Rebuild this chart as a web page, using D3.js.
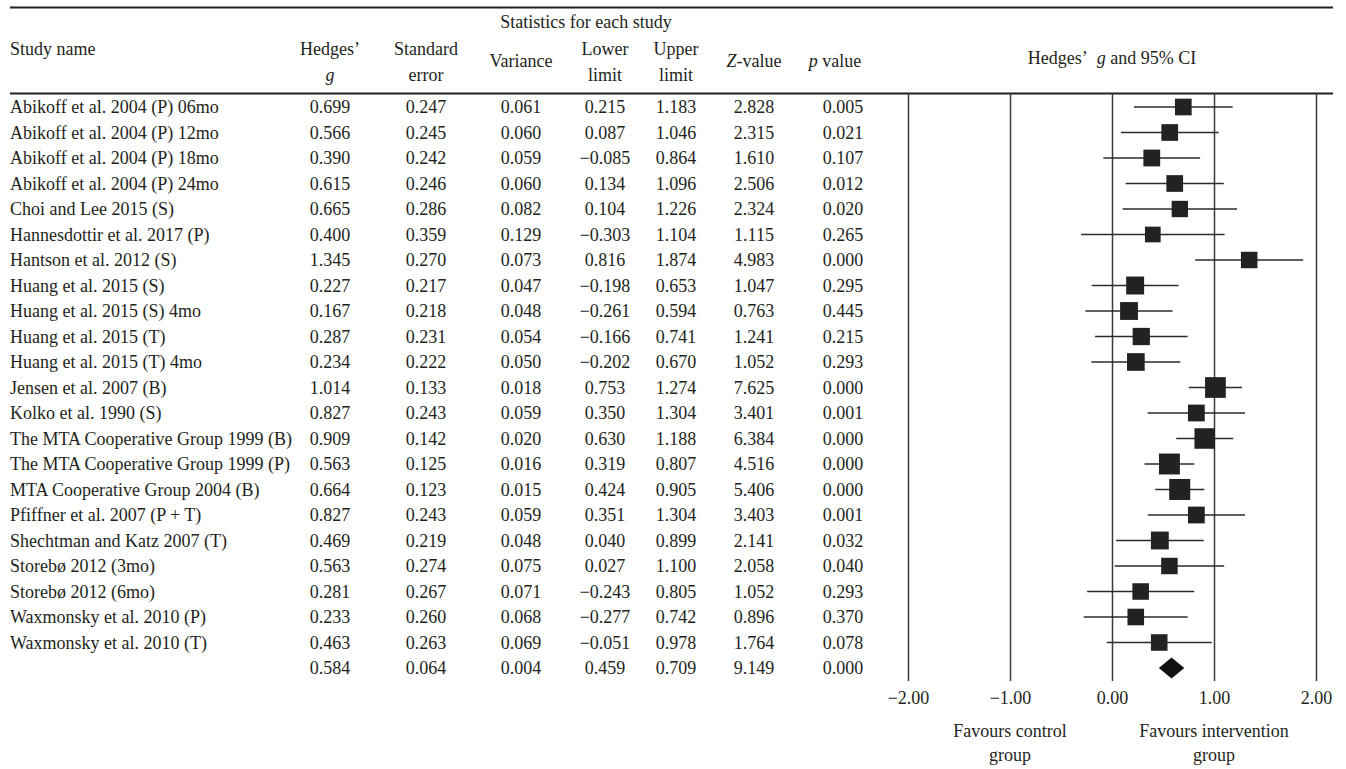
<!DOCTYPE html>
<html>
<head>
<meta charset="utf-8">
<script src="https://cdn.jsdelivr.net/npm/d3@7"></script>
<style>
  body { margin: 0; background: #fff; }
  svg text { font-family: "Liberation Serif", "DejaVu Serif", serif; font-size: 18px; fill: #231f20; }
</style>
</head>
<body>
<div id="forest"></div>
<script>
// data
var studies = [
  "Abikoff et al. 2004 (P) 06mo", "Abikoff et al. 2004 (P) 12mo", "Abikoff et al. 2004 (P) 18mo",
  "Abikoff et al. 2004 (P) 24mo", "Choi and Lee 2015 (S)", "Hannesdottir et al. 2017 (P)",
  "Hantson et al. 2012 (S)", "Huang et al. 2015 (S)", "Huang et al. 2015 (S) 4mo",
  "Huang et al. 2015 (T)", "Huang et al. 2015 (T) 4mo", "Jensen et al. 2007 (B)",
  "Kolko et al. 1990 (S)", "The MTA Cooperative Group 1999 (B)", "The MTA Cooperative Group 1999 (P)",
  "MTA Cooperative Group 2004 (B)", "Pfiffner et al. 2007 (P + T)", "Shechtman and Katz 2007 (T)",
  "Storebø 2012 (3mo)", "Storebø 2012 (6mo)", "Waxmonsky et al. 2010 (P)", "Waxmonsky et al. 2010 (T)"
];
var hedgesG = [0.699, 0.566, 0.390, 0.615, 0.665, 0.400, 1.345, 0.227, 0.167, 0.287, 0.234, 1.014,
  0.827, 0.909, 0.563, 0.664, 0.827, 0.469, 0.563, 0.281, 0.233, 0.463];
var stdErr = [0.247, 0.245, 0.242, 0.246, 0.286, 0.359, 0.270, 0.217, 0.218, 0.231, 0.222, 0.133,
  0.243, 0.142, 0.125, 0.123, 0.243, 0.219, 0.274, 0.267, 0.260, 0.263];
var variance = [0.061, 0.060, 0.059, 0.060, 0.082, 0.129, 0.073, 0.047, 0.048, 0.054, 0.050, 0.018,
  0.059, 0.020, 0.016, 0.015, 0.059, 0.048, 0.075, 0.071, 0.068, 0.069];
var lowerLimit = [0.215, 0.087, -0.085, 0.134, 0.104, -0.303, 0.816, -0.198, -0.261, -0.166, -0.202, 0.753,
  0.350, 0.630, 0.319, 0.424, 0.351, 0.040, 0.027, -0.243, -0.277, -0.051];
var upperLimit = [1.183, 1.046, 0.864, 1.096, 1.226, 1.104, 1.874, 0.653, 0.594, 0.741, 0.670, 1.274,
  1.304, 1.188, 0.807, 0.905, 1.304, 0.899, 1.100, 0.805, 0.742, 0.978];
var zValue = [2.828, 2.315, 1.610, 2.506, 2.324, 1.115, 4.983, 1.047, 0.763, 1.241, 1.052, 7.625,
  3.401, 6.384, 4.516, 5.406, 3.403, 2.141, 2.058, 1.052, 0.896, 1.764];
var pValue = [0.005, 0.021, 0.107, 0.012, 0.020, 0.265, 0.000, 0.295, 0.445, 0.215, 0.293, 0.000,
  0.001, 0.000, 0.000, 0.000, 0.001, 0.032, 0.040, 0.293, 0.370, 0.078];

// pooled estimate
var summary = { g: 0.584, se: 0.064, v: 0.004, lo: 0.459, hi: 0.709, z: 9.149, p: 0.000 };

var tickValues = [-2, -1, 0, 1, 2];
var favourLabels = [
  { at: -1, lines: ["Favours control", "group"] },
  { at: 1, lines: ["Favours intervention", "group"] }
];

var width = 1346, height = 769;
var fmt = d3.format(".3f");

var svg = d3.select("#forest").append("svg")
  .attr("width", width)
  .attr("height", height);

var ink = "#231f20";
var topY = 7.5, headY = 93.5, plotBottom = 681;

// scales
var x = d3.scaleLinear().domain([-2, 2]).range([908, 1316]);
var y = d3.scalePoint().domain(d3.range(studies.length + 1)).range([107, 668]);
var boxSize = d3.scaleLinear().domain([0.015, 0.06, 0.129]).range([21, 16.7, 15.7]);

// columns of the table
var cols = [
  { x: 330, vals: hedgesG, s: summary.g },
  { x: 426, vals: stdErr, s: summary.se },
  { x: 521, vals: variance, s: summary.v },
  { x: 605, vals: lowerLimit, s: summary.lo },
  { x: 676, vals: upperLimit, s: summary.hi },
  { x: 754, vals: zValue, s: summary.z },
  { x: 843, vals: pValue, s: summary.p }
];

// rules
svg.append("line").attr("x1", 10).attr("x2", 1333).attr("y1", topY).attr("y2", topY)
  .attr("stroke", ink).attr("stroke-width", 2);
svg.append("line").attr("x1", 10).attr("x2", 1333).attr("y1", headY).attr("y2", headY)
  .attr("stroke", ink).attr("stroke-width", 2);

// header
var head = svg.append("g");
head.append("text").attr("x", 586).attr("y", 28).attr("text-anchor", "middle").text("Statistics for each study");
head.append("text").attr("x", 10).attr("y", 55).text("Study name");

function twoLine(cx, a, b, italicB) {
  head.append("text").attr("x", cx).attr("y", 55).attr("text-anchor", "middle").text(a);
  var t = head.append("text").attr("x", cx).attr("y", 81).attr("text-anchor", "middle").text(b);
  if (italicB) t.style("font-style", "italic");
}
twoLine(330, "Hedges\u2019", "g", true);
twoLine(426, "Standard", "error");
twoLine(605, "Lower", "limit");
twoLine(676, "Upper", "limit");
head.append("text").attr("x", 521).attr("y", 67).attr("text-anchor", "middle").text("Variance");

var zt = head.append("text").attr("x", 754).attr("y", 67).attr("text-anchor", "middle");
zt.append("tspan").style("font-style", "italic").text("Z");
zt.append("tspan").text("-value");
var pt = head.append("text").attr("x", 835).attr("y", 67).attr("text-anchor", "middle");
pt.append("tspan").style("font-style", "italic").text("p");
pt.append("tspan").text(" value");

var ht = head.append("text").attr("x", x(0)).attr("y", 64).attr("text-anchor", "middle");
ht.append("tspan").text("Hedges\u2019\u2002");
ht.append("tspan").style("font-style", "italic").text("g");
ht.append("tspan").text(" and 95% CI");

// table body
var body = svg.append("g");
body.selectAll("text.name")
  .data(studies)
  .enter().append("text")
  .attr("class", "name")
  .attr("x", 10)
  .attr("y", (d, i) => y(i))
  .attr("dy", "0.35em")
  .text(d => d);

cols.forEach(function (c) {
  body.selectAll(null)
    .data(c.vals.concat([c.s]))
    .enter().append("text")
    .attr("x", c.x)
    .attr("y", (d, i) => y(i))
    .attr("dy", "0.35em")
    .attr("text-anchor", "middle")
    .text(d => fmt(d));
});

// axis with full-height verticals
var axis = d3.axisBottom(x)
  .tickValues(tickValues)
  .tickSizeInner(-(plotBottom - headY))
  .tickSizeOuter(0)
  .tickPadding(10)
  .tickFormat(d3.format(".2f"));

var ax = svg.append("g")
  .attr("transform", `translate(0, ${plotBottom})`)
  .call(axis);
ax.select(".domain").remove();
ax.selectAll(".tick line").attr("stroke", "#3a3a3a").attr("stroke-width", 1.5);
ax.selectAll(".tick text")
  .attr("fill", ink)
  .style("font-family", "\"Liberation Serif\", serif")
  .style("font-size", "18px");

// favours labels
favourLabels.forEach(function (f) {
  f.lines.forEach(function (line, k) {
    svg.append("text")
      .attr("x", x(f.at))
      .attr("y", 737 + k * 24)
      .attr("text-anchor", "middle")
      .text(line);
  });
});

// CI lines and boxes
var plot = svg.append("g");
plot.selectAll("line.ci")
  .data(hedgesG)
  .enter().append("line")
  .attr("class", "ci")
  .attr("x1", (d, i) => x(lowerLimit[i]))
  .attr("x2", (d, i) => x(upperLimit[i]))
  .attr("y1", (d, i) => y(i))
  .attr("y2", (d, i) => y(i))
  .attr("stroke", "#2b2b2b")
  .attr("stroke-width", 1.5);

plot.selectAll("rect.box")
  .data(hedgesG)
  .enter().append("rect")
  .attr("class", "box")
  .attr("x", (d, i) => x(d) - boxSize(variance[i]) / 2)
  .attr("y", (d, i) => y(i) - boxSize(variance[i]) / 2)
  .attr("width", (d, i) => boxSize(variance[i]))
  .attr("height", (d, i) => boxSize(variance[i]))
  .attr("fill", "#222");

// pooled diamond
var sy = y(studies.length);
plot.append("path")
  .attr("d", `M${x(summary.lo)},${sy} L${x(summary.g)},${sy - 10.5} L${x(summary.hi)},${sy} L${x(summary.g)},${sy + 10.5} Z`)
  .attr("fill", "#111");
</script>
</body>
</html>
